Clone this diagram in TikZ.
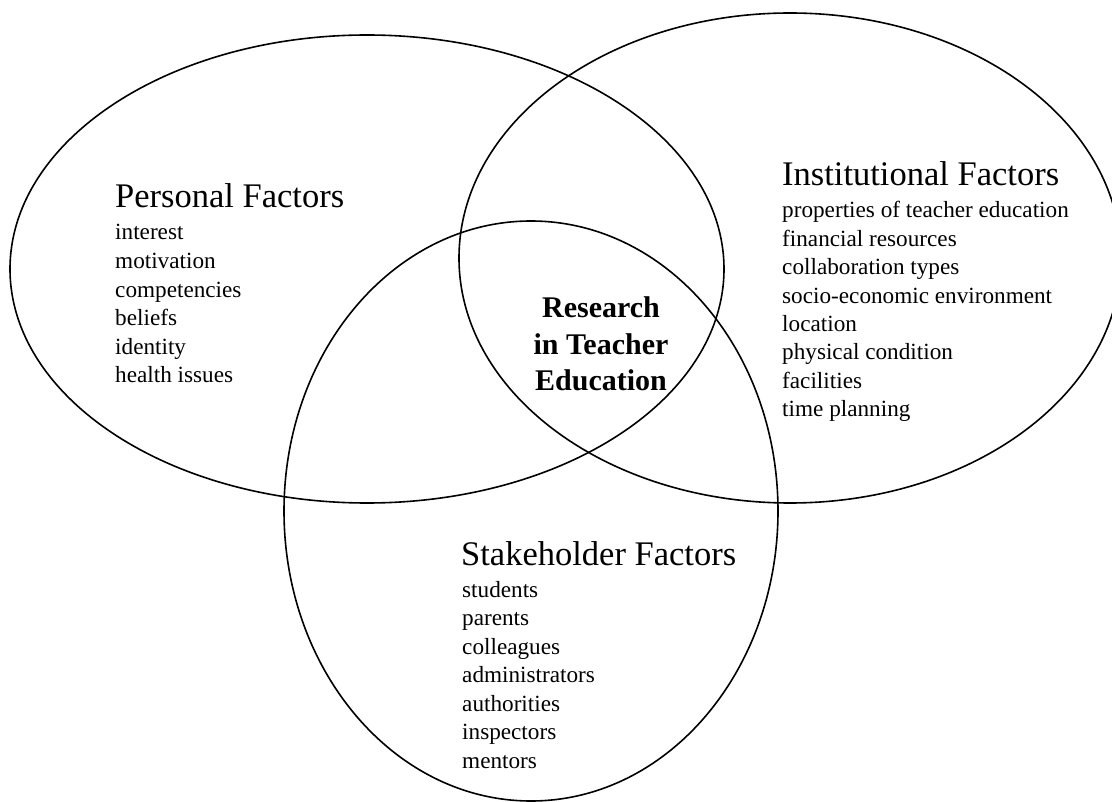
\documentclass[tikz,border=0pt]{standalone}
\usepackage{fontspec}
\setmainfont{Liberation Serif}
\begin{document}
\begin{tikzpicture}[x=1pt,y=-1pt,
  ring/.style={line width=1.6pt},
  head/.style={anchor=base west,inner sep=0pt,font=\fontsize{34.5}{40}\selectfont},
  item/.style={anchor=base west,inner sep=0pt,font=\fontsize{23.2}{28}\selectfont},
  core/.style={anchor=base,inner sep=0pt,font=\bfseries\fontsize{30}{36}\selectfont}]
\useasboundingbox (0,0) rectangle (1112,802);
% ellipses
\draw[ring] (367,269) ellipse [x radius=357, y radius=234];
\draw[ring] (790,258) ellipse [x radius=331, y radius=245];
\draw[ring] (531,511) ellipse [x radius=247, y radius=290];
% Personal
\node[head] (ph) at (115,208) {Personal Factors};
\foreach \t [count=\i] in {interest,motivation,competencies,beliefs,identity,health issues}
  \node[item] (p\i) at (115,{240+28.6*(\i-1)}) {\t};
% Institutional
\node[head] (ih) at (782,186) {Institutional Factors};
\foreach \t [count=\i] in {properties of teacher education,financial resources,collaboration types,socio-economic environment,location,physical condition,facilities,time planning}
  \node[item] (i\i) at (782,{218+28.4*(\i-1)}) {\t};
% Stakeholder
\node[head] (sh) at (461,565) {Stakeholder Factors};
\foreach \t [count=\i] in {students,parents,colleagues,administrators,authorities,inspectors,mentors}
  \node[item] (s\i) at (462,{597+28.5*(\i-1)}) {\t};
% centre
\node[core] (c1) at (601,318) {Research};
\node[core] (c2) at (601,355) {in Teacher};
\node[core] (c3) at (601,391) {Education};
\end{tikzpicture}
\end{document}
